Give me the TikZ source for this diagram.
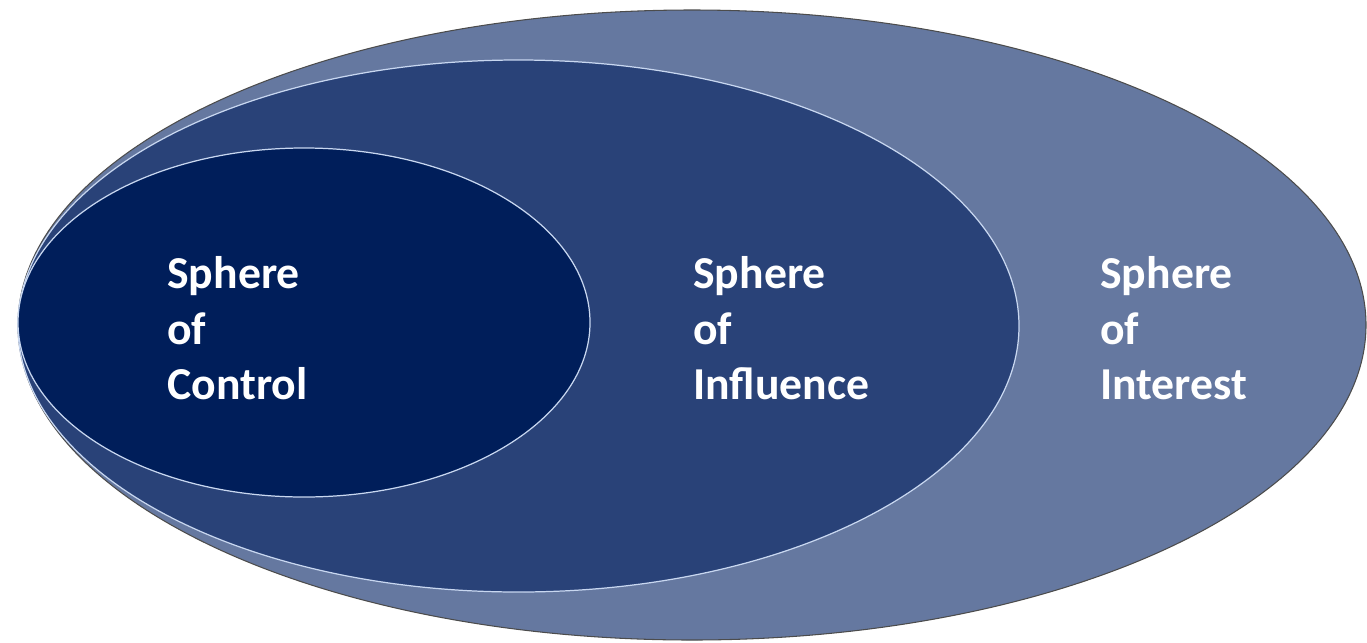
\documentclass[tikz,border=0pt]{standalone}
\usepackage{tikz}
\usepackage{fontspec}
\setmainfont{Carlito}
\definecolor{interestblue}{RGB}{101,120,160}
\definecolor{influenceblue}{RGB}{41,66,120}
\definecolor{controlblue}{RGB}{0,30,90}
\definecolor{rimwhite}{RGB}{200,215,240}
\tikzset{sphere label/.style={anchor=west, inner sep=0pt, align=left, text=white,
  font=\fontsize{26}{31.6}\selectfont\bfseries}}

\begin{document}
\begin{tikzpicture}
\useasboundingbox (0,0) rectangle (27.34,-12.84);
\filldraw[draw = black!70, fill = interestblue, line width = 0.6pt] (13.84,-6.5) ellipse (13.48cm and 6.3cm);
\filldraw[draw = rimwhite, fill = influenceblue, line width = 0.7pt] (10.37,-6.52) ellipse (10.01cm and 5.32cm);
\filldraw[draw = rimwhite, fill = controlblue, line width = 0.7pt] (6.08,-6.45) ellipse (5.72cm and 3.49cm);
\node[sphere label] (control) at (3.34,-6.57) {Sphere\\of\\Control};
\node[sphere label] (influence) at (13.86,-6.57) {Sphere\\of\\Influence};
\node[sphere label] (interest) at (22.0,-6.57) {Sphere\\of\\Interest};
\end{tikzpicture}
\end{document}
